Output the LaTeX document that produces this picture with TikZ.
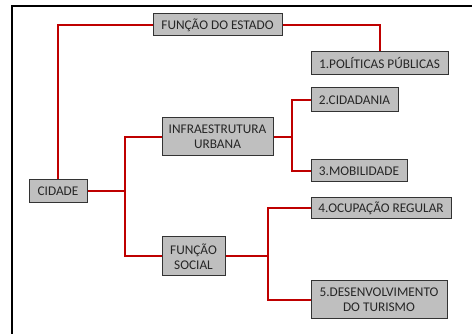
\documentclass[tikz,border=0pt]{standalone}
\usepackage{fontspec}
\setmainfont{Carlito}
\begin{document}
\begin{tikzpicture}[x=1pt,y=-1pt,
  box/.style={draw=black!80,line width=1pt,fill=black!25,text=black!85,inner sep=0pt,align=center,
    font=\fontsize{13.3}{15}\selectfont},
  link/.style={draw=red!75!black,line width=2pt}]
\useasboundingbox (0,0) rectangle (472,334);
\fill[white] (0,0) rectangle (472,334);
\draw[line width=2pt,black] (12,334) -- (12,6.5) -- (472,6.5);
\coordinate (j1) at (125,191.5);
\coordinate (j2) at (292,137);
\coordinate (j3) at (268,256.5);
\node[box,minimum width=129pt,minimum height=22pt] (estado) at (217.5,25) {FUNÇÃO DO ESTADO};
\node[box,minimum width=137pt,minimum height=23pt] (pol) at (379.5,63.5) {1.POLÍTICAS PÚBLICAS};
\node[box,minimum width=87pt,minimum height=24pt] (cid) at (354.5,100) {2.CIDADANIA};
\node[box,minimum width=111pt,minimum height=38pt] (infra) at (217.5,137) {INFRAESTRUTURA\\URBANA};
\node[box,minimum width=96pt,minimum height=22pt] (mob) at (359,171) {3.MOBILIDADE};
\node[box,minimum width=58pt,minimum height=23pt] (cidade) at (58,191.5) {CIDADE};
\node[box,minimum width=140pt,minimum height=21pt] (ocup) at (381,208.5) {4.OCUPAÇÃO REGULAR};
\node[box,minimum width=63pt,minimum height=39pt] (social) at (193.5,256.5) {FUNÇÃO\\SOCIAL};
\node[box,minimum width=136pt,minimum height=38pt] (desenv) at (379,300) {5.DESENVOLVIMENTO\\DO TURISMO};
\draw[link] (cidade.north) |- (estado.west);
\draw[link] (estado.east) -| (pol.north);
\draw[link] (cidade.east) -- (j1);
\draw[link] (j1) |- (infra.west);
\draw[link] (j1) |- (social.west);
\draw[link] (infra.east) -- (j2);
\draw[link] (j2) |- (cid.west);
\draw[link] (j2) |- (mob.west);
\draw[link] (social.east) -- (j3);
\draw[link] (j3) |- (ocup.west);
\draw[link] (j3) |- (desenv.west);
\end{tikzpicture}
\end{document}
